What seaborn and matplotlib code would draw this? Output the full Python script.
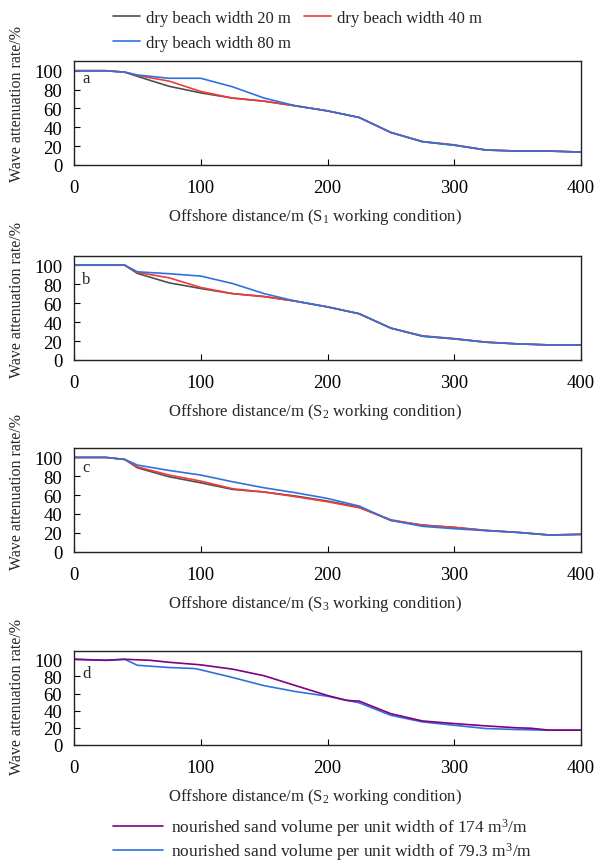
import numpy as np
import pandas as pd
import matplotlib
matplotlib.use("Agg")
import matplotlib.pyplot as plt
import seaborn as sns

sns.set_style("ticks")
plt.rcParams['font.family'] = ['Liberation Serif', 'DejaVu Serif']
plt.rcParams['mathtext.fontset'] = 'custom'
plt.rcParams['mathtext.rm'] = 'Liberation Serif'
plt.rcParams['mathtext.it'] = 'Liberation Serif:italic'

# ---------------- data ----------------
x_abc = [0, 25, 40, 50, 75, 100, 125, 150, 175, 200, 225, 250, 275, 300, 325, 350, 375, 400]

a_20 = [100, 100, 98.5, 94, 83.5, 76.5, 71, 67.7, 62.7, 57.4, 50.4, 34.5, 24.7, 21, 15.9, 14.8, 14.8, 13.7]
a_40 = [100, 100, 98.5, 95, 89, 78, 71, 67.7, 62.7, 57.4, 50.4, 34.5, 24.9, 21.4, 15.9, 14.8, 14.8, 13.7]
a_80 = [100, 100, 98.5, 95.5, 92, 92, 83, 71, 62.7, 57.4, 50.4, 34.5, 24.7, 21, 15.9, 14.8, 14.8, 13.7]

b_20 = [100, 100, 100, 91.3, 81.4, 75.4, 70, 66.9, 62, 56, 48.8, 33.6, 25.1, 22.3, 18.8, 17, 15.9, 15.9]
b_40 = [100, 100, 100, 92.4, 86.7, 76.5, 70, 66.9, 62, 56, 48.8, 33.6, 25.5, 22.6, 18.8, 17, 15.9, 15.9]
b_80 = [100, 100, 100, 93, 91, 88.5, 80.7, 70, 62, 56, 48.8, 33.6, 25.1, 22.3, 18.8, 17, 15.9, 15.9]

c_20 = [100, 100, 97.9, 89, 79.5, 73.1, 66.1, 63.3, 59, 53.7, 47.3, 33.2, 28.3, 25.8, 22.6, 20.5, 17.7, 18.4]
c_40 = [100, 100, 97.9, 90, 81.3, 74.9, 66.8, 63.3, 58.3, 53, 46.6, 33.9, 27.9, 25.8, 22.6, 20.5, 17.7, 18.4]
c_80 = [100, 100, 97.9, 91.9, 86.2, 81.3, 74.2, 67.8, 62.5, 56.5, 48.4, 33.2, 26.9, 24.4, 22.3, 20.5, 17.7, 18.4]

x_d174 = [0, 25, 40, 60, 75, 100, 125, 150, 175, 200, 215, 225, 250, 275, 300, 325, 350, 360, 375, 400]
d_174 = [100, 98.8, 100, 98.8, 96.5, 93.5, 88.5, 80.8, 69.2, 57.7, 52, 51.2, 36.5, 28, 25, 22.3, 20, 19.6, 17.3, 17.3]
x_d79 = [0, 25, 40, 50, 75, 95, 100, 125, 150, 175, 200, 225, 250, 275, 300, 325, 350, 375, 400]
d_79 = [100, 98.8, 100, 93, 90.4, 89.2, 87.7, 78.8, 69.2, 62.3, 56.9, 49.2, 34.6, 26.9, 23, 19.2, 18, 17.3, 17.3]

labels_beach = ["dry beach width 20 m", "dry beach width 40 m", "dry beach width 80 m"]
labels_sand = ["nourished sand volume per unit width of 174 m$^{3}$/m",
               "nourished sand volume per unit width of 79.3 m$^{3}$/m"]
panel_letters = ["a", "b", "c", "d"]
conditions = ["1", "2", "3", "2"]
x_ticks = [0, 100, 200, 300, 400]
y_ticks = [0, 20, 40, 60, 80, 100]

col_gray = "#4f4f4f"
col_red = "#f23a3a"
col_blue = "#2f72de"
col_purple = "#800080"

# ---------------- figure ----------------
W, H = 597, 862
fig = plt.figure(figsize=(W / 100, H / 100), dpi=100)

def px_axes(left, right, top, bottom):
    return fig.add_axes([left / W, 1 - bottom / H, (right - left) / W, (bottom - top) / H])

ax_pos = [(74, 581, 62.3, 166), (74, 581, 256.7, 361), (74, 581, 449, 552.7), (74, 581, 651.7, 746)]
axes = [px_axes(*p) for p in ax_pos]

def long_df(xs_list, ys_list, names):
    rows = []
    for xs, ys, nm in zip(xs_list, ys_list, names):
        for xv, yv in zip(xs, ys):
            rows.append((xv, yv, nm))
    return pd.DataFrame(rows, columns=["distance", "rate", "series"])

beach_sets = [(a_20, a_40, a_80), (b_20, b_40, b_80), (c_20, c_40, c_80)]
pal_beach = dict(zip(labels_beach, [col_gray, col_red, col_blue]))
for ax, ys in zip(axes[:3], beach_sets):
    df = long_df([x_abc] * 3, list(ys), labels_beach)
    sns.lineplot(data=df, x="distance", y="rate", hue="series", palette=pal_beach,
                 hue_order=labels_beach, estimator=None, sort=False, linewidth=1.2,
                 legend=False, ax=ax)

pal_sand = dict(zip(labels_sand, [col_purple, col_blue]))
df_d = long_df([x_d79, x_d174], [d_79, d_174], [labels_sand[1], labels_sand[0]])
sns.lineplot(data=df_d, x="distance", y="rate", hue="series", palette=pal_sand,
             hue_order=[labels_sand[1], labels_sand[0]], estimator=None, sort=False,
             linewidth=1.2, legend=False, ax=axes[3])

fs = 12
fs_tick = 13.5
letter_y = [0.84, 0.78, 0.82, 0.76]
ylab_y = [0.60, 0.585, 0.585, 0.52]
for i, ax in enumerate(axes):
    ax.set_xlim(0, 400)
    ax.set_ylim(0, 110)
    ax.set_xticks(x_ticks)
    ax.set_yticks(y_ticks)
    ax.tick_params(direction="in", length=4, width=0.8, colors="black", labelsize=fs_tick)
    ax.tick_params(axis="x", pad=10)
    ax.tick_params(axis="y", pad=8.5)
    for s in ax.spines.values():
        s.set_visible(True)
        s.set_color("#222222")
        s.set_linewidth(1.0)
    ax.set_xlabel(r"Offshore distance/m (S$_{%s}$ working condition)" % conditions[i], fontsize=fs)
    h = ax_pos[i][3] - ax_pos[i][2]
    ax.xaxis.set_label_coords(0.475, -41 / h)
    ax.set_ylabel("Wave attenuation rate/%", fontsize=11.5)
    ax.yaxis.set_label_coords(-49 / 507, ylab_y[i])
    ax.text(0.016, letter_y[i], panel_letters[i], transform=ax.transAxes,
            fontsize=fs, ha="left", va="center")

# legends
lines_a = axes[0].get_lines()
hdl = {labels_beach[k]: lines_a[k] for k in range(3)}
order = [labels_beach[0], labels_beach[2], labels_beach[1]]
fig.legend([hdl[o] for o in order], order, loc="upper left",
           bbox_to_anchor=(113 / W, 1 - 11 / H), ncol=2, frameon=False,
           fontsize=fs, borderpad=0, borderaxespad=0, handlelength=1.6,
           handletextpad=0.4, columnspacing=0.75, labelspacing=0.55)

lines_d = axes[3].get_lines()
fig.legend([lines_d[1], lines_d[0]], labels_sand, loc="upper left",
           bbox_to_anchor=(113 / W, 1 - 817 / H), ncol=1, frameon=False,
           fontsize=12.5, borderpad=0, borderaxespad=0, handlelength=2.9,
           handletextpad=0.45, labelspacing=0.12)

fig.savefig("out.png", dpi=100)
